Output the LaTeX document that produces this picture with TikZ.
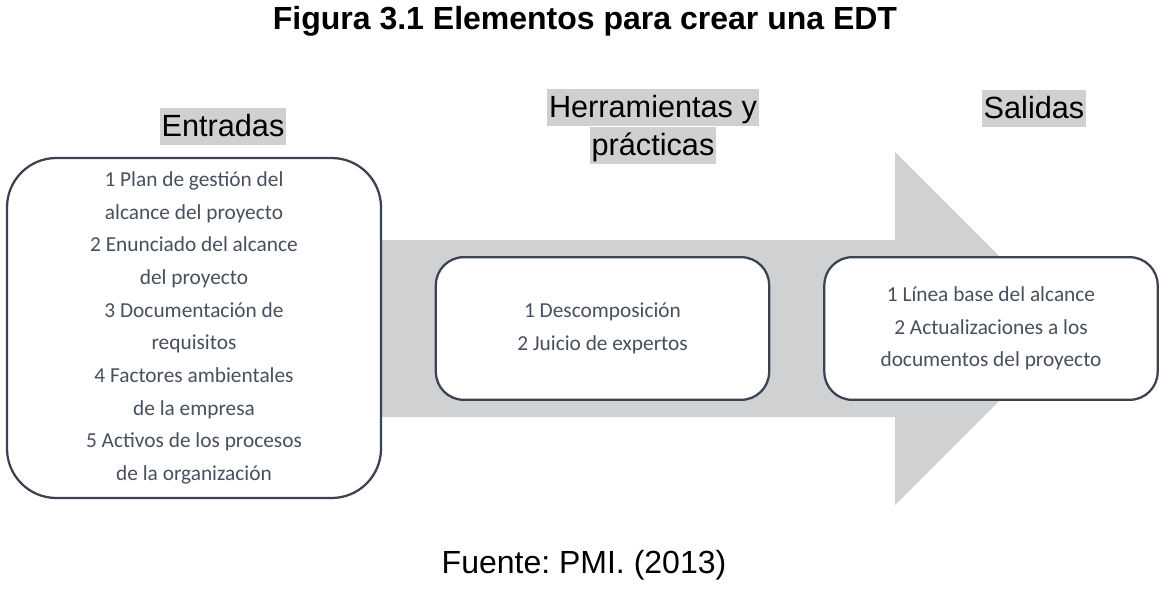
\documentclass[tikz,border=0pt]{standalone}
\usepackage{xcolor}
\usepackage{fontspec}
\setmainfont{Liberation Sans}
\newfontfamily\itemfont{Carlito}
\usepackage{tikz}
\usetikzlibrary{positioning}
\definecolor{hdrgray}{HTML}{D0D0D0}
\definecolor{arrowgray}{HTML}{D0D1D3}
\definecolor{boxline}{HTML}{3B4351}
\definecolor{boxtext}{HTML}{47505C}
\setlength{\fboxsep}{1.5pt}
\newcommand{\hdrline}[1]{\colorbox{hdrgray}{\rule[-4.7pt]{0pt}{24.7pt}#1}}
\frenchspacing

\begin{document}
\begin{tikzpicture}[
  x=0.75pt, y=-0.75pt,
  title/.style={font=\bfseries\fontsize{24}{28}\selectfont, text centered},
  hdr/.style={font=\fontsize{23}{27.7}\selectfont, inner sep=0pt, align=center},
  stage/.style={draw=boxline, line width=1.7pt, fill=white, rectangle, rounded corners=21pt, minimum width=250pt, minimum height=107pt, align=center, text=boxtext, font=\itemfont\fontsize{16}{24.5}\selectfont},
  source/.style={font=\fontsize{24}{28}\selectfont, text centered}
]
\useasboundingbox (0,0) rectangle (1168,596);

% Title
\node[title] (title) at (585,21) {Figura 3.1 Elementos para crear una EDT};

% Big arrow behind the boxes
\fill[arrowgray] (200,240) -- (895,240) -- (895,152) -- (1071.5,328.5)
  -- (895,505) -- (895,417) -- (200,417) -- cycle;

% Boxes
\node[stage, minimum width=280.5pt, minimum height=255pt, rounded corners=37pt] (inputs) at (194,328) {1 Plan de gestión del\\alcance del proyecto\\2 Enunciado del alcance\\del proyecto\\3 Documentación de\\requisitos\\4 Factores ambientales\\de la empresa\\5 Activos de los procesos\\de la organización};
\node[stage] (tools) at (602.5,328.5) {1 Descomposición\\2 Juicio de expertos};
\node[stage] (outputs) at (991,328.5) {1 Línea base del alcance\\2 Actualizaciones a los\\documentos del proyecto};

% Headers
\node[hdr] (inhdr) at (223,126.5) {\hdrline{Entradas}};
\node[hdr] (toolhdr) at (653,126.5) {\hdrline{Herramientas y}\\\hdrline{prácticas}};
\node[hdr] (outhdr) at (1034,108.5) {\hdrline{Salidas}};

% Source
\node[source] (src) at (584,565) {Fuente: PMI. (2013)};

\end{tikzpicture}
\end{document}
